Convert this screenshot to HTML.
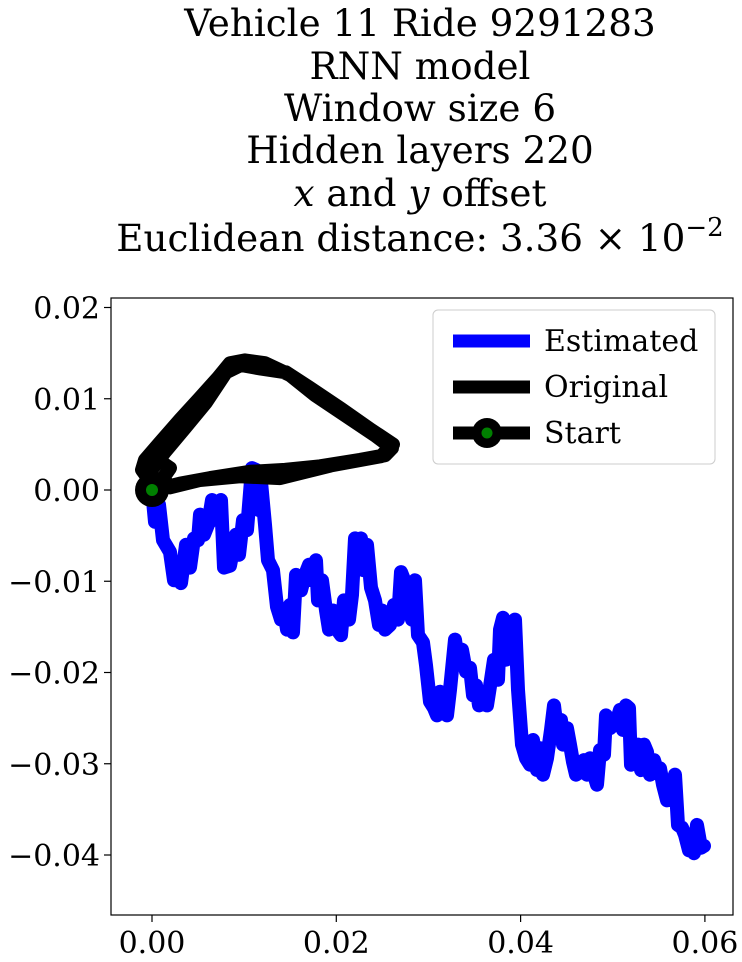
<!DOCTYPE html>
<html><head><meta charset="utf-8"><style>
html,body{margin:0;padding:0;background:#fff;}
svg{display:block;font-family:"DejaVu Serif","Liberation Serif",serif;}
</style></head><body>
<svg id="chart" width="742" height="962" viewBox="0 0 742 962">
<g font-size="37.3" text-anchor="middle" fill="#000">
<text x="420" y="36">Vehicle 11 Ride 9291283</text>
<text x="420" y="79">RNN model</text>
<text x="420" y="121">Window size 6</text>
<text x="420" y="163">Hidden layers 220</text>
<text x="420" y="206"><tspan font-style="italic">x</tspan> and <tspan font-style="italic">y</tspan> offset</text>
<text x="420" y="251">Euclidean distance: 3.36 × 10<tspan dy="-15" font-size="26">−2</tspan></text>
</g>
<g id="ticks"></g>
<g id="series"></g>
<rect x="111" y="298" width="622" height="617" fill="none" stroke="#000" stroke-width="1.2"/>
<g>
<rect x="433" y="310" width="282" height="154" rx="5" fill="#fff" fill-opacity="0.8" stroke="#ccc" stroke-width="1"/>
<line x1="453" y1="341" x2="530" y2="341" stroke="#0000ff" stroke-width="13"/>
<text x="544" y="351" font-size="30">Estimated</text>
<line x1="453" y1="387" x2="530" y2="387" stroke="#000" stroke-width="13"/>
<text x="544" y="397" font-size="30">Original</text>
<line x1="453" y1="433" x2="530" y2="433" stroke="#000" stroke-width="13"/>
<circle cx="487" cy="433" r="15" fill="#000"/>
<circle cx="487" cy="433" r="5.5" fill="#008000"/>
<text x="544" y="443" font-size="30">Start</text>
</g>
</svg>
<script>
const xTicks = [0.00, 0.02, 0.04, 0.06];
const xTickLabels = ["0.00", "0.02", "0.04", "0.06"];
const yTicks = [0.02, 0.01, 0.00, -0.01, -0.02, -0.03, -0.04];
const yTickLabels = ["0.02", "0.01", "0.00", "−0.01", "−0.02", "−0.03", "−0.04"];
// values in units of 1e-3
const estX = [0,0.33,0.76,1.19,1.95,2.39,2.82,3.15,3.69,4.12,4.56,4.99,5.21,5.64,6.08,6.51,7.05,7.49,7.81,8.46,9.12,9.44,9.88,10.31,10.85,11.29,11.61,11.83,12.26,12.59,13.13,13.56,14.0,14.32,14.65,14.98,15.30,15.63,16.17,16.60,17.04,17.36,17.80,18.01,18.45,18.88,19.21,19.64,20.08,20.51,20.84,21.38,21.70,22.03,22.36,22.68,23.01,23.33,23.77,24.20,24.63,24.96,25.28,25.83,26.26,26.70,27.02,27.46,27.78,28.22,28.54,28.87,29.41,29.73,30.17,30.60,30.93,31.25,31.69,32.01,32.34,32.88,33.21,33.64,34.07,34.51,34.83,35.16,35.49,35.92,36.35,36.79,37.11,37.55,37.76,38.09,38.42,38.85,39.39,39.72,40.15,40.59,41.02,41.35,41.78,42.11,42.43,42.86,43.30,43.62,43.95,44.38,44.60,45.04,45.36,45.69,46.01,46.45,46.88,47.21,47.53,47.97,48.29,48.62,49.05,49.27,49.70,50.03,50.46,50.79,51.11,51.44,51.76,51.98,52.41,52.74,53.07,53.39,53.72,54.04,54.48,54.80,55.13,55.45,55.89,56.32,56.76,57.08,57.52,57.84,58.27,58.60,58.82,59.14,59.58,59.90];
const estY = [0,-3.5,-1.6,-5.5,-6.8,-9.9,-7.9,-10.2,-6.0,-8.5,-5.3,-5.5,-2.7,-4.9,-3.8,-1.1,-3.3,-1.1,-8.5,-8.3,-4.9,-7.1,-3.3,-4.4,2.4,2.2,-2.2,0.9,-3.8,-7.7,-8.8,-12.8,-14.2,-13.2,-15.3,-12.6,-15.6,-9.3,-11.0,-9.3,-8.2,-9.9,-7.7,-12.1,-9.9,-13.2,-15.3,-13.2,-15.3,-15.9,-12.1,-14.2,-11.5,-5.3,-7.7,-5.3,-8.8,-6.0,-10.7,-12.1,-14.8,-13.2,-15.3,-14.8,-12.6,-14.2,-9.0,-10.1,-11.8,-14.2,-9.9,-15.9,-16.7,-19.2,-23.2,-23.9,-24.7,-22.1,-23.9,-24.7,-21.9,-16.4,-18.8,-17.5,-19.9,-19.5,-22.5,-21.4,-23.6,-22.2,-23.6,-20.8,-18.6,-20.8,-15.3,-14.0,-18.6,-15.1,-14.2,-21.9,-27.9,-29.4,-30.1,-27.4,-30.7,-28.3,-31.2,-29.4,-26.3,-23.6,-26.3,-25.2,-27.9,-26.1,-27.9,-29.8,-31.2,-30.1,-29.6,-31.2,-29.4,-31.2,-32.3,-28.5,-29.0,-24.7,-26.1,-25.8,-25.2,-24.1,-26.3,-23.6,-23.9,-30.1,-28.7,-27.9,-30.7,-27.9,-28.7,-31.2,-29.6,-30.7,-30.5,-32.3,-34.0,-32.9,-31.2,-36.7,-37.0,-37.8,-39.5,-38.4,-39.8,-36.7,-39.2,-39.0];
const origX = [0,-0.43,-1.09,-0.76,0.87,3.04,5.21,7.16,8.46,10.09,12.26,14.98,17.69,20.94,24.20,26.04,25.28,22.57,18.23,14.43,10.63,6.29,3.04,1.09,0.33,-0.22,1.41,3.58,5.86,8.03,9.66,11.83,14.54,17.26,20.51,23.77,26.15,24.85,19.43,13.89,9.55,5.21,1.95,1.19,1.95,1.09];
const origY = [0,1.3,2.2,3.3,5.2,7.7,10.1,12.3,13.9,14.2,13.9,12.6,10.4,8.2,6.0,4.6,3.8,3.3,2.6,2.2,2.0,1.3,0.7,0.2,1.1,2.0,4.2,6.8,9.6,12.9,13.7,13.3,12.9,11.1,8.9,6.6,5.0,3.7,2.7,1.3,1.5,1.1,0.3,1.3,2.4,3.0];
const startX = [0];
const startY = [0];

const NS = "http://www.w3.org/2000/svg";
function sx(v){ return 152 + v / 0.02 * 184.3; }
function sy(v){ return 490 - v / 0.01 * 91.25; }
const ticks = document.getElementById('ticks');
const series = document.getElementById('series');
function mk(tag, attrs, parent){ const e = document.createElementNS(NS, tag); for (const k in attrs) e.setAttribute(k, attrs[k]); parent.appendChild(e); return e; }

xTicks.forEach((v,i)=>{
  const X = sx(v);
  const t = mk('line',{x1:X,x2:X,y1:915,y2:922,stroke:'#000','stroke-width':1.2},ticks);
  
  
  const l = mk('text',{x:X,y:953,'font-size':30,'text-anchor':'middle'},ticks);
  l.textContent = xTickLabels[i];
  
  
});
yTicks.forEach((v,i)=>{
  const Y = sy(v);
  const t = mk('line',{x1:104,x2:111,y1:Y,y2:Y,stroke:'#000','stroke-width':1.2},ticks);
  
  
  const l = mk('text',{x:100,y:Y+11,'font-size':30,'text-anchor':'end'},ticks);
  l.textContent = yTickLabels[i];
  
  
});
function pts(xs, ys){ return xs.map((x,i)=>sx(x/1000).toFixed(1)+','+sy(ys[i]/1000).toFixed(1)).join(' '); }
const est = mk('polyline',{points:pts(estX,estY),fill:'none',stroke:'#0000ff','stroke-width':14,'stroke-linejoin':'round','stroke-linecap':'round'},series);


const org = mk('polyline',{points:pts(origX,origY),fill:'none',stroke:'#000','stroke-width':14,'stroke-linejoin':'round','stroke-linecap':'round'},series);


startX.forEach((x,i)=>{
  const c = mk('circle',{cx:sx(x/1000),cy:sy(startY[i]/1000),r:17,fill:'#000'},series);
  
  
  const g = mk('circle',{cx:sx(x/1000),cy:sy(startY[i]/1000),r:6,fill:'#008000'},series);
  
  
});
</script>
</body></html>
